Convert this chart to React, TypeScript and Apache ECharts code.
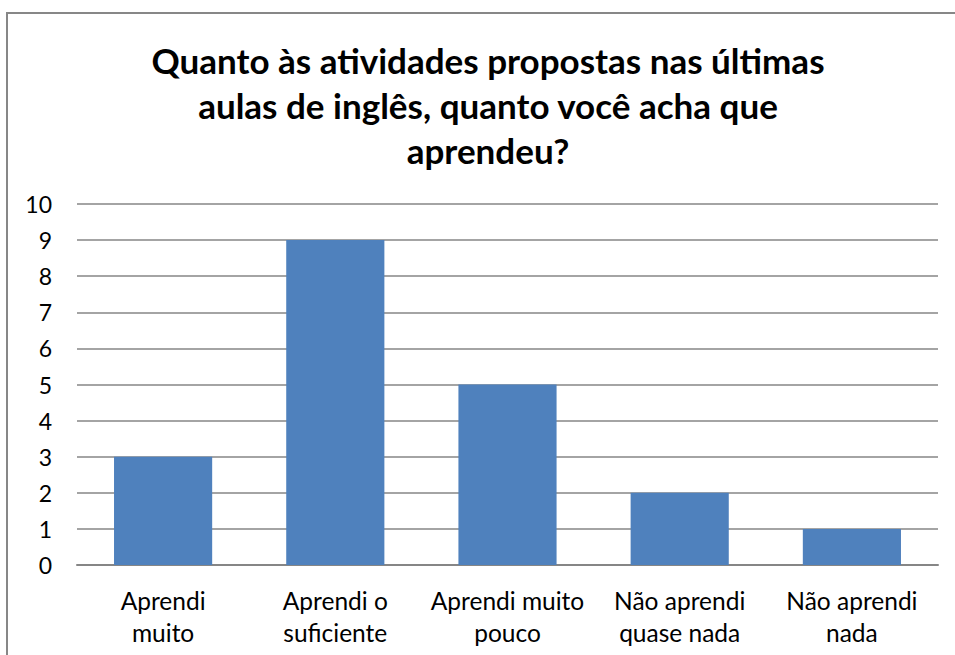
import React, { useEffect, useRef } from "react";
import * as echarts from "echarts";

const titleText = "Quanto às atividades propostas nas últimas\naulas de inglês, quanto você acha que\naprendeu?";
const categories = [
  "Aprendi\nmuito",
  "Aprendi o\nsuficiente",
  "Aprendi muito\npouco",
  "Não aprendi\nquase nada",
  "Não aprendi\nnada",
];
const values = [3, 9, 5, 2, 1];
const yTicks = { min: 0, max: 10, interval: 1 };

export default function App() {
  const ref = useRef<HTMLDivElement>(null);
  useEffect(() => {
    const chart = echarts.init(ref.current!, null, { renderer: "svg" });
    const font = "Lato, 'Open Sans', sans-serif";
    chart.setOption({
      animation: false,
      backgroundColor: "#ffffff",
      textStyle: { fontFamily: font },
      title: {
        text: titleText,
        left: 488,
        textAlign: "center",
        top: 37,
        padding: 0,
        textStyle: {
          fontFamily: font,
          fontWeight: "bold",
          fontSize: 35,
          lineHeight: 45,
          color: "#000000",
        },
      },
      graphic: [
        {
          type: "rect",
          shape: { x: 7, y: 13, width: 980, height: 700 },
          style: { fill: "none", stroke: "#878787", lineWidth: 2 },
          silent: true,
          z: 100,
        },
      ],
      grid: { left: 77, right: 17, top: 204, bottom: 90, containLabel: false },
      xAxis: {
        type: "category",
        data: categories,
        axisLine: { show: true, lineStyle: { color: "#868686", width: 2 } },
        axisTick: { show: false },
        axisLabel: {
          fontFamily: font,
          fontSize: 24.5,
          lineHeight: 32,
          color: "#000000",
          margin: 19,
          interval: 0,
        },
      },
      yAxis: {
        type: "value",
        min: yTicks.min,
        max: yTicks.max,
        interval: yTicks.interval,
        axisLine: { show: false },
        axisTick: { show: false },
        splitLine: { show: true, lineStyle: { color: "#868686", width: 1.5 } },
        axisLabel: {
          fontFamily: font,
          fontSize: 23,
          color: "#000000",
          margin: 25,
        },
      },
      series: [
        {
          type: "bar",
          data: values,
          barWidth: "57%",
          itemStyle: { color: "#4F81BD" },
        },
      ],
    });
    return () => chart.dispose();
  }, []);
  return (
    <div
      ref={ref}
      style={{ position: "absolute", left: 0, top: 0, width: 955, height: 655 }}
    />
  );
}
